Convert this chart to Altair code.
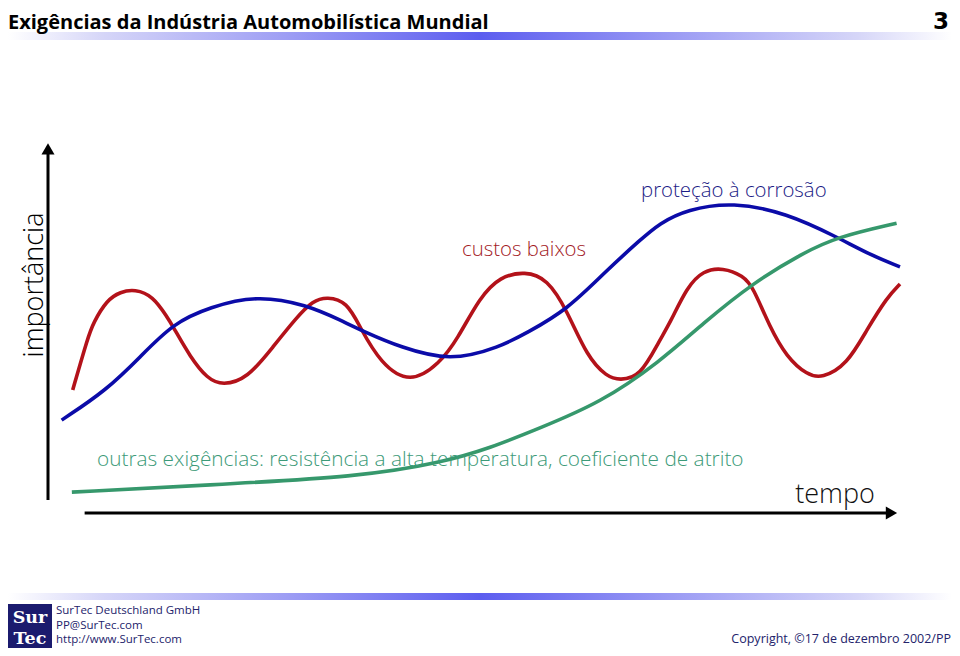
import altair as alt
import pandas as pd

# ---- data (time 0-100, importance 0-100) ----
red_t = [2.9, 4.7, 5.3, 6.9, 8.5, 10.2, 12.3, 14.0, 14.7, 16.7, 18.7, 20.5, 23.4, 26.4, 29.2, 31.1, 32.75,
         35.1, 36.6, 39.0, 42.5, 46.0, 48.0, 50.7, 53.05, 56.0, 58.6, 60.9, 63.3, 65.6, 67.1, 69.5, 71.8,
         73.0, 75.0, 76.9, 79.2, 81.6, 82.75, 84.7, 86.7, 89.1, 90.85, 93.8, 96.1, 98.5, 100.0]
red_imp = [33.0, 47.2, 50.9, 57.1, 59.3, 60.0, 58.2, 52.5, 49.9, 41.8, 36.0, 34.2, 36.0, 44.5, 52.5, 56.9, 58.0,
           56.6, 49.9, 40.2, 34.5, 40.2, 46.4, 57.9, 63.4, 64.8, 62.8, 54.4, 41.8, 36.5, 35.6, 36.5, 46.4,
           50.9, 60.6, 65.0, 65.8, 63.6, 60.6, 49.9, 41.8, 37.0, 36.1, 39.8, 49.1, 57.9, 61.4]

blue_t = [1.6, 6.9, 10.8, 14.7, 19.0, 24.5, 30.4, 34.3, 37.4, 41.3, 47.2, 53.05, 56.2, 60.9, 65.6, 69.5,
          71.8, 75.0, 80.4, 86.7, 92.6, 96.5, 100.0]
blue_imp = [24.9, 33.0, 41.8, 50.9, 55.2, 58.4, 55.8, 51.7, 48.3, 44.5, 40.6, 44.5, 48.3, 54.4, 65.1, 73.2,
            77.7, 81.4, 83.4, 80.4, 74.0, 69.2, 66.0]

green_t = [2.8, 18.7, 36.6, 46.0, 51.9, 57.75, 64.8, 71.8, 76.9, 82.75, 88.6, 92.6, 99.6]
green_imp = [5.6, 7.5, 9.7, 13.4, 17.4, 22.8, 29.5, 40.5, 50.9, 61.7, 69.7, 74.0, 77.7]

series_names = ["custos baixos", "proteção à corrosão", "outras exigências"]
series_colors = ["#b3121a", "#0b0ba8", "#36986c"]

label_texts = ["custos baixos", "proteção à corrosão",
               "outras exigências: resistência a alta temperatura, coeficiente de atrito", "tempo"]
label_t = [48.6, 69.6, 5.75, 87.7]
label_imp = [68.9, 84.7, 12.6, 2.7]
label_colors = ["#a31b1f", "#1c1c86", "#3c9a78", "#111111"]

title_text = "Exigências da Indústria Automobilística Mundial"
page_number = "3"
footer_lines = ["SurTec Deutschland GmbH", "PP@SurTec.com", "http://www.SurTec.com"]
copyright_text = "Copyright, ©17 de dezembro 2002/PP"

# ---- tables ----
rows = []
for name, ts, vs in [(series_names[0], red_t, red_imp), (series_names[1], blue_t, blue_imp),
                     (series_names[2], green_t, green_imp)]:
    for t, v in zip(ts, vs):
        rows.append({"tempo": t, "importancia": v, "serie": name})
curves = pd.DataFrame(rows)

xs = alt.Scale(domain=[0, 100], range=[40, 892])
ys = alt.Scale(domain=[0, 100], range=[505, 132])
X = lambda f: alt.X(f, type="quantitative", scale=xs, axis=None)
Y = lambda f: alt.Y(f, type="quantitative", scale=ys, axis=None)

lines = alt.Chart(curves).mark_line(interpolate="basis", strokeWidth=3.6, strokeCap="butt").encode(
    x=X("tempo"), y=Y("importancia"),
    color=alt.Color("serie:N", scale=alt.Scale(domain=series_names, range=series_colors), legend=None),
    detail="serie:N",
)

# axes with arrows
axis_df = pd.DataFrame({"t1": [4.3, 0.0], "t2": [98.5, 0.0], "i1": [0.0, 3.5], "i2": [0.0, 97.0]})
axis_rules = alt.Chart(axis_df).mark_rule(strokeWidth=3, color="#000000").encode(
    x=X("t1"), x2="t2", y=Y("i1"), y2="i2")
heads_df = pd.DataFrame({"t": [99.0, 0.0], "i": [0.0, 97.6], "shape": ["triangle-right", "triangle-up"]})
heads = alt.Chart(heads_df).mark_point(filled=True, size=170, opacity=1, color="#000000").encode(
    x=X("t"), y=Y("i"), shape=alt.Shape("shape:N", scale=None))

labels_df = pd.DataFrame({"txt": label_texts, "t": label_t, "i": label_imp, "c": label_colors,
                          "fs": [20.4, 20.4, 20.8, 27]})
labels = alt.Chart(labels_df).mark_text(align="left", baseline="alphabetic", font="Open Sans",
                                        fontWeight=300).encode(
    x=X("t"), y=Y("i"), text="txt:N", color=alt.Color("c:N", scale=None),
    size=alt.Size("fs:Q", scale=None))

one = pd.DataFrame({"k": [0]})
ylabel = alt.Chart(one).mark_text(text="importância", angle=270, align="center", baseline="alphabetic",
                                  font="Open Sans", fontWeight=300, fontSize=27, color="#000000").encode(
    x=alt.value(35), y=alt.value(277))

grad = alt.Gradient(gradient="linear", x1=0, x2=1, y1=0, y2=0, stops=[
    alt.GradientStop(color="#ffffff", offset=0.0),
    alt.GradientStop(color="#d6d6f8", offset=0.1),
    alt.GradientStop(color="#9c9cf4", offset=0.3),
    alt.GradientStop(color="#5c5def", offset=0.5),
    alt.GradientStop(color="#9a9af4", offset=0.7),
    alt.GradientStop(color="#d6d6f8", offset=0.9),
    alt.GradientStop(color="#ffffff", offset=1.0)])
top_bar = alt.Chart(one).mark_rect(color=grad).encode(
    x=alt.value(0), x2=alt.value(944), y=alt.value(24), y2=alt.value(32))
bottom_bar = alt.Chart(one).mark_rect(color=grad).encode(
    x=alt.value(0), x2=alt.value(944), y=alt.value(585), y2=alt.value(592))

title = alt.Chart(one).mark_text(text=title_text, align="left", baseline="alphabetic", font="Open Sans",
                                 fontWeight="bold", fontSize=20, color="#000000").encode(
    x=alt.value(0), y=alt.value(21))
pnum = alt.Chart(one).mark_text(text=page_number, align="right", baseline="alphabetic", font="DejaVu Sans",
                                fontWeight="bold", fontSize=23, color="#000000").encode(
    x=alt.value(941), y=alt.value(21))

logo = alt.Chart(one).mark_rect(color="#1b1b6e").encode(
    x=alt.value(0), x2=alt.value(44), y=alt.value(596), y2=alt.value(640))
logo_sur = alt.Chart(one).mark_text(text="Sur", align="center", baseline="alphabetic", font="DejaVu Serif",
                                    fontWeight="bold", fontSize=17.5, color="#ffffff").encode(
    x=alt.value(22), y=alt.value(615))
logo_tec = alt.Chart(one).mark_text(text="Tec", align="center", baseline="alphabetic", font="DejaVu Serif",
                                    fontWeight="bold", fontSize=17.5, color="#ffffff").encode(
    x=alt.value(22), y=alt.value(636))

foot_color = "#23236b"
foot1 = alt.Chart(one).mark_text(text=footer_lines[0], align="left", baseline="alphabetic", font="Open Sans",
                                 fontSize=11.5, color=foot_color).encode(x=alt.value(48), y=alt.value(606))
foot2 = alt.Chart(one).mark_text(text=footer_lines[1], align="left", baseline="alphabetic", font="Open Sans",
                                 fontSize=11.5, color=foot_color).encode(x=alt.value(48), y=alt.value(620.5))
foot3 = alt.Chart(one).mark_text(text=footer_lines[2], align="left", baseline="alphabetic", font="Open Sans",
                                 fontSize=11.5, color=foot_color).encode(x=alt.value(48), y=alt.value(635))
copyright = alt.Chart(one).mark_text(text=copyright_text, align="right", baseline="alphabetic",
                                     font="Open Sans", fontSize=12.5, color=foot_color).encode(
    x=alt.value(943), y=alt.value(635))

chart = alt.layer(
    top_bar, bottom_bar, title, pnum, axis_rules, heads, lines, labels, ylabel,
    logo, logo_sur, logo_tec, foot1, foot2, foot3, copyright
).properties(
    width=944, height=640, autosize=alt.AutoSizeParams(type="none"), padding=0
).configure_view(stroke=None)

chart.save("out.html", embed_options={"renderer": "svg", "actions": False})
